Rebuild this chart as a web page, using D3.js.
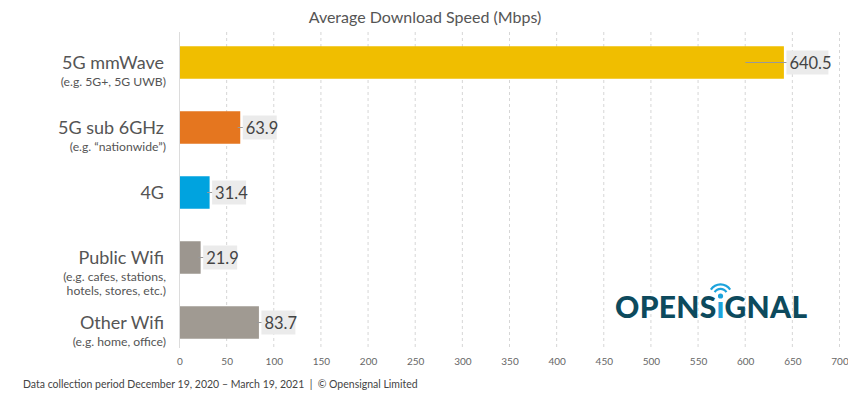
<!DOCTYPE html>
<meta charset="utf-8">
<style>
body { margin: 0; background: #fff; }
svg { font-family: Lato, "Open Sans", sans-serif; }
.grid line { stroke: #d6d6d6; stroke-dasharray: 3,3; }
</style>
<body>
<script src="https://d3js.org/d3.v7.min.js"></script>
<script>

// chart values
var categories = ["5G mmWave", "5G sub 6GHz", "4G", "Public Wifi", "Other Wifi"];
var subLabels = [["(e.g. 5G+, 5G UWB)"], ["(e.g. \u201cnationwide\u201d)"], [], ["(e.g. cafes, stations,", "hotels, stores, etc.)"], ["(e.g. home, office)"]];
var speeds = [640.5, 63.9, 31.4, 21.9, 83.7];
var colours = ["#f0be00", "#e5761f", "#00a3df", "#9c968f", "#a09a92"];
var ticks = [0, 50, 100, 150, 200, 250, 300, 350, 400, 450, 500, 550, 600, 650, 700];

var width = 848, height = 393;

var svg = d3.select("body").append("svg")
  .attr("width", width).attr("height", height);

var x = d3.scaleLinear().domain([0, 700]).range([179.5, 839.5]);
var y = d3.scaleBand().domain(categories).range([30, 355]).paddingInner(0.5).paddingOuter(0.25);

// title
svg.append("text")
  .attr("x", 425).attr("y", 23)
  .attr("text-anchor", "middle")
  .attr("fill", "#555")
  .style("font-size", "16px")
  .text("Average Download Speed (Mbps)");

// dashed grid
var grid = svg.append("g").attr("class", "grid");
grid.selectAll("line").data(ticks.slice(1)).enter().append("line")
  .attr("x1", function(d) { return x(d); })
  .attr("x2", function(d) { return x(d); })
  .attr("y1", 32).attr("y2", 348);

// zero line
svg.append("line")
  .attr("x1", x(0)).attr("x2", x(0))
  .attr("y1", 32).attr("y2", 348)
  .attr("stroke", "#dcdcdc");

// tick labels via axis
var xAxis = d3.axisBottom(x).tickValues(ticks).tickSize(0).tickPadding(0);
var ax = svg.append("g").attr("transform", "translate(0,358)").call(xAxis);
ax.select(".domain").remove();
ax.selectAll("text")
  .attr("fill", "#666")
  .style("font-family", "Lato, sans-serif")
  .style("font-size", "10px");

// OPENSIGNAL logo
var logo = svg.append("g");
var logoText = logo.append("text")
  .attr("x", 615).attr("y", 318)
  .attr("fill", "#0d4a5d")
  .style("font-size", "30px")
  .style("font-weight", "900")
  .style("letter-spacing", "0.3px");
logoText.append("tspan").text("OPENS");
logoText.append("tspan").attr("fill", "#1ca3dc").text("\u0131");
logoText.append("tspan").text("GNAL");

// bars
var bars = svg.selectAll("g.bar").data(categories).enter().append("g").attr("class", "bar");

bars.append("rect")
  .attr("x", x(0) + 0.5)
  .attr("y", function(d) { return y(d); })
  .attr("width", function(d, i) { return x(speeds[i]) - x(0); })
  .attr("height", y.bandwidth())
  .attr("fill", function(d, i) { return colours[i]; });

// connector line
bars.append("line")
  .attr("x1", function(d, i) { return x(speeds[i]) - (i === 0 ? 38 : 2); })
  .attr("x2", function(d, i) { return x(speeds[i]) + 6; })
  .attr("y1", function(d) { return y(d) + y.bandwidth() / 2; })
  .attr("y2", function(d) { return y(d) + y.bandwidth() / 2; })
  .attr("stroke", "#999")
  .attr("stroke-width", 1);

// value labels with grey box
bars.append("rect")
  .attr("x", function(d, i) { return x(speeds[i]) + 3; })
  .attr("y", function(d) { return y(d) + y.bandwidth() / 2 - 12; })
  .attr("width", function(d, i) { return speeds[i] >= 100 ? 42 : 34; })
  .attr("height", 24)
  .attr("fill", "#ebebeb");

bars.append("text")
  .attr("x", function(d, i) { return x(speeds[i]) + 6; })
  .attr("y", function(d) { return y(d) + y.bandwidth() / 2 + 6; })
  .attr("fill", "#444")
  .style("font-size", "16.5px")
  .text(function(d, i) { return speeds[i]; });

// category labels
bars.append("text")
  .attr("x", 164)
  .attr("y", function(d) { return y(d) + y.bandwidth() / 2 + 6; })
  .attr("text-anchor", "end")
  .attr("fill", "#555")
  .style("font-size", "18px")
  .text(function(d) { return d; });

bars.each(function(d, i) {
  var g = d3.select(this);
  subLabels[i].forEach(function(s, j) {
    g.append("text")
      .attr("x", 166)
      .attr("y", y(d) + y.bandwidth() / 2 + 23 + j * 14)
      .attr("text-anchor", "end")
      .attr("fill", "#555")
      .style("font-size", "12.2px")
      .text(s);
  });
});

// footer
svg.append("text")
  .attr("x", 23).attr("y", 388)
  .attr("fill", "#444")
  .style("font-size", "10.5px")
  .style("white-space", "pre")
  .text("Data collection period December 19, 2020 \u2013 March 19, 2021  |  \u00a9 Opensignal Limited");

// wifi arcs over the i
var tsp = logoText.selectAll("tspan").nodes()[1];
var st = tsp.getStartPositionOfChar(0), en = tsp.getEndPositionOfChar(0);
var cx = (st.x + en.x) / 2, cy = 296;
logo.append("circle").attr("cx", cx).attr("cy", cy).attr("r", 2.6).attr("fill", "#1ca3dc");
[6, 10.5].forEach(function(r) {
  logo.append("path")
    .attr("d", d3.arc()({innerRadius: r, outerRadius: r + 2.2, startAngle: -Math.PI / 3.2, endAngle: Math.PI / 3.2}))
    .attr("transform", "translate(" + cx + "," + cy + ")")
    .attr("fill", "#1ca3dc");
});

</script>
</body>
